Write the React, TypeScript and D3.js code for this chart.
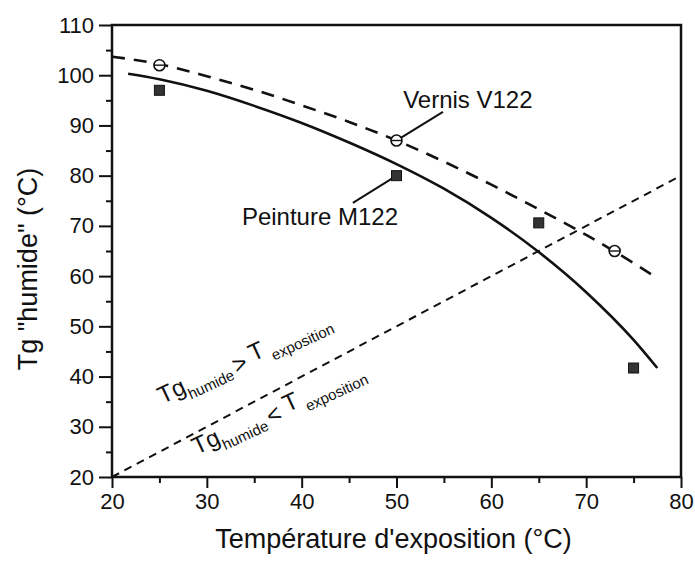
import { useEffect, useRef } from 'react'
import * as d3 from 'd3'

// measured points
const tempVernis = [25, 50, 73]
const tgVernis = [102, 87, 65]
const tempPeinture = [25, 50, 65, 75]
const tgPeinture = [97, 80, 70.6, 41.7]

// fitted curves
const fitVernisT = [20, 25, 30, 35, 40, 45, 50, 55, 60, 65, 70, 75, 77.5]
const fitVernisTg = [103.7, 102.2, 99.8, 97.1, 94.0, 90.7, 87.0, 82.8, 78.2, 73.3, 68.2, 62.6, 59.6]
const fitPeintureT = [21.7, 25, 30, 35, 40, 45, 50, 55, 60, 65, 70, 75, 77.5]
const fitPeintureTg = [100.3, 99.2, 96.9, 93.9, 90.5, 86.6, 82.3, 77.4, 71.6, 64.8, 56.8, 47.3, 41.7]

// Tg = T exposition
const diagonalT = [20, 80]

const xTicks = [20, 30, 40, 50, 60, 70, 80]
const xMinorTicks = [25, 35, 45, 55, 65, 75]
const yTicks = [20, 30, 40, 50, 60, 70, 80, 90, 100, 110]
const yMinorTicks = [25, 35, 45, 55, 65, 75, 85, 95, 105]

const FONT = '"Liberation Sans", Arial, Helvetica, sans-serif'

export default function App() {
  const svgRef = useRef<SVGSVGElement>(null)

  useEffect(() => {
    if (!svgRef.current) return
    const svg = d3.select(svgRef.current)
    svg.selectAll('*').remove()

    const x = d3.scaleLinear().domain([20, 80]).range([112, 681])
    const y = d3.scaleLinear().domain([20, 110]).range([477, 25])
    const ink = '#111'

    svg.append('rect').attr('width', 695).attr('height', 563).attr('fill', '#fff')

    // axes ticks
    const styleAxis = (g: any) => {
      g.select('.domain').remove()
      g.selectAll('line').attr('stroke', ink).attr('stroke-width', 2)
      g.selectAll('text').attr('font-family', FONT).attr('font-size', 22).attr('fill', ink)
    }
    svg.append('g').attr('transform', `translate(0,${y(20)})`)
      .call(d3.axisBottom(x).tickValues(xTicks).tickSize(11).tickPadding(5).tickFormat(d3.format('d')))
      .call(styleAxis)
    svg.append('g').attr('transform', `translate(0,${y(20)})`)
      .call(d3.axisBottom(x).tickValues(xMinorTicks).tickSize(6).tickFormat(() => ''))
      .call(styleAxis)
    svg.append('g').attr('transform', `translate(${x(20)},0)`)
      .call(d3.axisLeft(y).tickValues(yTicks).tickSize(13).tickPadding(5).tickFormat(d3.format('d')))
      .call(styleAxis)
    svg.append('g').attr('transform', `translate(${x(20)},0)`)
      .call(d3.axisLeft(y).tickValues(yMinorTicks).tickSize(6).tickFormat(() => ''))
      .call(styleAxis)

    // frame
    svg.append('rect')
      .attr('x', x(20)).attr('y', y(110))
      .attr('width', x(80) - x(20)).attr('height', y(20) - y(110))
      .attr('fill', 'none').attr('stroke', ink).attr('stroke-width', 2.5)

    const line = d3.line<[number, number]>()
      .x(d => x(d[0]))
      .y(d => y(d[1]))
      .curve(d3.curveMonotoneX)

    // Tg = T diagonal
    svg.append('path')
      .datum(diagonalT.map(t => [t, t] as [number, number]))
      .attr('d', line)
      .attr('fill', 'none').attr('stroke', ink).attr('stroke-width', 2)
      .attr('stroke-dasharray', '8 6')

    // vernis fit
    svg.append('path')
      .datum(fitVernisT.map((t, i) => [t, fitVernisTg[i]] as [number, number]))
      .attr('d', line)
      .attr('fill', 'none').attr('stroke', ink).attr('stroke-width', 2.6)
      .attr('stroke-dasharray', '13 9')

    // peinture fit
    svg.append('path')
      .datum(fitPeintureT.map((t, i) => [t, fitPeintureTg[i]] as [number, number]))
      .attr('d', line)
      .attr('fill', 'none').attr('stroke', ink).attr('stroke-width', 2.6)

    // leaders
    const leader = (fromT: number, fromTg: number, toT: number, toTg: number, gap: number) => {
      const x1 = x(fromT), y1 = y(fromTg), x2 = x(toT), y2 = y(toTg)
      const len = Math.hypot(x2 - x1, y2 - y1)
      svg.append('line')
        .attr('x1', x1).attr('y1', y1)
        .attr('x2', x2 - (x2 - x1) / len * gap).attr('y2', y2 - (y2 - y1) / len * gap)
        .attr('stroke', ink).attr('stroke-width', 2)
    }
    leader(54.9, 92.7, tempVernis[1], tgVernis[1], 5)
    leader(45.4, 74.6, tempPeinture[1], tgPeinture[1], 5)

    // markers
    const vern = svg.append('g')
    tempVernis.forEach((t, i) => {
      vern.append('circle')
        .attr('cx', x(t)).attr('cy', y(tgVernis[i])).attr('r', 5.5)
        .attr('fill', '#fff').attr('stroke', ink).attr('stroke-width', 1.6)
      vern.append('line')
        .attr('x1', x(t) - 5.5).attr('x2', x(t) + 5.5)
        .attr('y1', y(tgVernis[i])).attr('y2', y(tgVernis[i]))
        .attr('stroke', ink).attr('stroke-width', 1.4)
    })
    svg.append('g').selectAll('rect')
      .data(tempPeinture)
      .enter()
      .append('rect')
      .attr('x', t => x(t) - 5).attr('y', (_, i) => y(tgPeinture[i]) - 5)
      .attr('width', 10).attr('height', 10)
      .attr('fill', '#333').attr('stroke', ink).attr('stroke-width', 1)

    // labels
    const label = (t: number, tg: number, txt: string) =>
      svg.append('text')
        .attr('x', x(t)).attr('y', y(tg))
        .attr('font-family', FONT).attr('font-size', 24).attr('fill', ink)
        .text(txt)
    label(50.7, 93.5, 'Vernis V122')
    label(33.7, 70.2, 'Peinture M122')

    const slopeLabel = (t: number, tg: number, rel: string) => {
      const txt = svg.append('text')
        .attr('transform', `translate(${x(t)},${y(tg)}) rotate(-25)`)
        .attr('font-family', FONT).attr('font-size', 24).attr('fill', ink)
      txt.append('tspan').text('Tg')
      txt.append('tspan').attr('font-size', 15).attr('dy', 8).text('humide')
      txt.append('tspan').attr('dy', -4).attr('dx', 3).text(rel)
      txt.append('tspan').attr('dy', -4).attr('dx', 6).text('T')
      txt.append('tspan').attr('font-size', 15).attr('dy', 8).attr('dx', 5).text('exposition')
    }
    slopeLabel(25.3, 34.5, '>')
    slopeLabel(28.9, 24.4, '<')

    // axis titles
    svg.append('text')
      .attr('x', (x(20) + x(80)) / 2 - 3).attr('y', 548)
      .attr('text-anchor', 'middle')
      .attr('font-family', FONT).attr('font-size', 27).attr('fill', ink)
      .text("Température d'exposition (°C)")
    svg.append('text')
      .attr('transform', `translate(37,${(y(20) + y(110)) / 2 + 18}) rotate(-90)`)
      .attr('text-anchor', 'middle')
      .attr('font-family', FONT).attr('font-size', 27).attr('fill', ink)
      .text('Tg "humide" (°C)')
  }, [])

  return (
    <svg
      ref={svgRef}
      width={695}
      height={563}
      style={{ position: 'absolute', left: 0, top: 0, display: 'block' }}
    />
  )
}
